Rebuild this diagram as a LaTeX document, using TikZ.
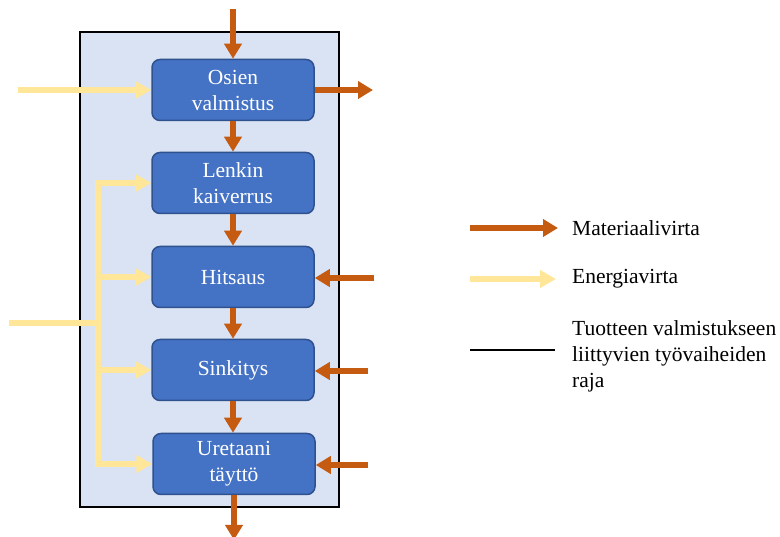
\documentclass[tikz,border=0pt]{standalone}
\usepackage{fontspec}
\setmainfont{Liberation Serif}
\usetikzlibrary{arrows.meta}
\definecolor{matcol}{HTML}{C55A11}
\definecolor{encol}{HTML}{FFE699}
\definecolor{boxfill}{HTML}{4472C4}
\definecolor{boxedge}{HTML}{2F528F}
\definecolor{zonefill}{HTML}{DAE3F3}
\tikzset{
  txt/.style={font=\rmfamily\fontsize{21.5}{26}\selectfont, inner sep=0pt},
  stage/.style={draw=boxedge, line width=1.5pt, fill=boxfill, rounded corners=8pt,
    minimum width=162pt, minimum height=61pt, align=center, text=white,
    font=\rmfamily\fontsize{21.5}{26}\selectfont, inner sep=0pt},
  mat/.style={draw=matcol, line width=5.5pt, -{Triangle[length=15pt,width=17pt]}},
  en/.style={draw=encol, line width=5.5pt, -{Triangle[length=16pt,width=17pt]}},
  enline/.style={draw=encol, line width=5.5pt},
}
\begin{document}
\begin{tikzpicture}[x=1pt, y=-1pt]
\useasboundingbox (0,0) rectangle (780,537);

% boundary of the production stages
\draw[line width=2pt, fill=zonefill] (80,32) rectangle (339,507);

% process stages
\node[stage] (osien) at (233,90) {Osien\\valmistus};
\node[stage] (lenkin) at (233,183) {Lenkin\\kaiverrus};
\node[stage] (hitsaus) at (233,277) {Hitsaus};
\node[stage] (sinkitys) at (233,370) {Sinkitys};
\node[stage] (uretaani) at (234,464) {Uretaani\\täyttö};

% material flow
\coordinate (matin) at (233,9);
\coordinate (matout) at (373,90);
\coordinate (hin) at (374,278);
\coordinate (sin) at (368,371);
\coordinate (uin) at (368,465);
\coordinate (matend) at (234,540);
\draw[mat] (matin) -- (osien.north);
\draw[mat] (osien.south) -- (lenkin.north);
\draw[mat] (lenkin.south) -- (hitsaus.north);
\draw[mat] (hitsaus.south) -- (sinkitys.north);
\draw[mat] (sinkitys.south) -- (sinkitys.south |- uretaani.north);
\draw[mat] (uretaani.south) -- (matend);
\draw[mat] (osien.east) -- (matout);
\draw[mat] (hin) -- (hitsaus.east |- hin);
\draw[mat] (sin) -- (sinkitys.east |- sin);
\draw[mat] (uin) -- (uretaani.east |- uin);

% energy flow
\coordinate (ein1) at (18,90);
\coordinate (ein2) at (9,323);
\coordinate (bus) at (98,323);
\draw[en] (ein1) -- (osien.west);
\draw[enline] (ein2) -- (bus);
\draw[en] (bus) |- (lenkin.west);
\draw[en] (bus) |- (hitsaus.west);
\draw[en] (bus) |- (sinkitys.west);
\draw[en] (bus) |- (uretaani.west);

% legend
\coordinate (l1a) at (470,228);
\coordinate (l1b) at (558,228);
\coordinate (l2a) at (470,279);
\coordinate (l2b) at (556,279);
\coordinate (l3a) at (470,350);
\coordinate (l3b) at (555,350);
\draw[mat] (l1a) -- (l1b);
\draw[en] (l2a) -- (l2b);
\draw[line width=2pt] (l3a) -- (l3b);
\node[txt, anchor=west] (lmat) at (572,228) {Materiaalivirta};
\node[txt, anchor=west] (len) at (572,279) {Energiavirta};
\node[txt, anchor=west, align=left] (lraja) at (572,356)
  {Tuotteen valmistukseen\\liittyvien työvaiheiden\\raja};
\end{tikzpicture}
\end{document}
